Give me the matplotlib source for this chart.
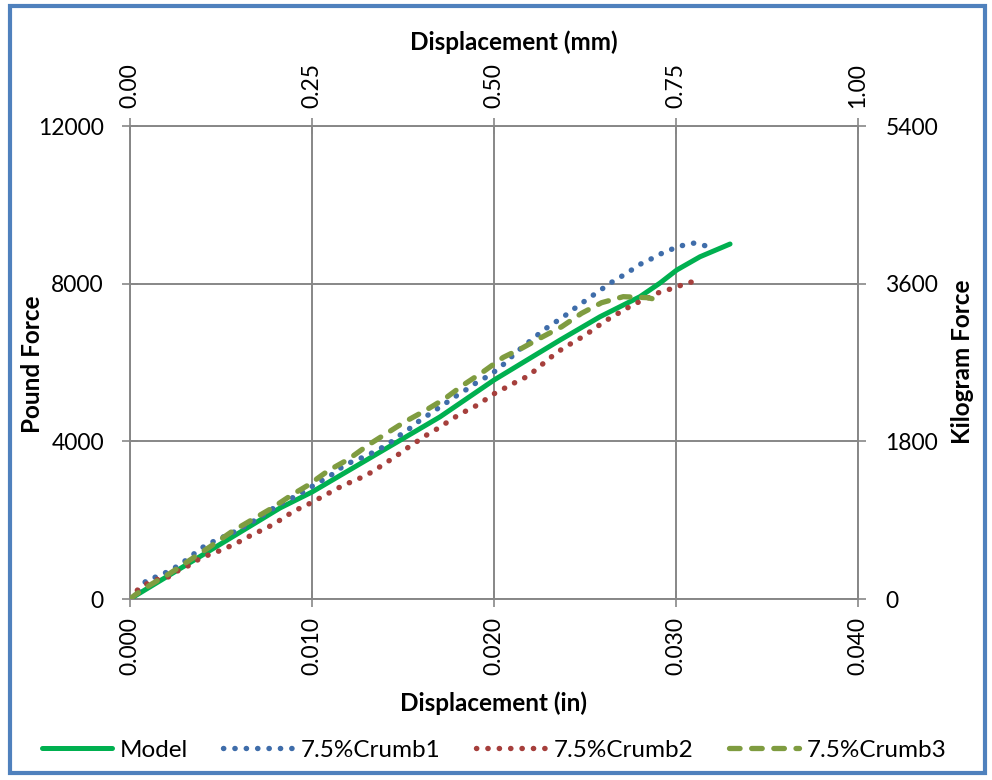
import matplotlib
matplotlib.use("Agg")
import matplotlib.pyplot as plt
from matplotlib.patches import Rectangle
from matplotlib.ticker import FormatStrFormatter

plt.rcParams['font.family'] = ['Lato', 'DejaVu Sans']

# Load-displacement data (displacement in inches, force in lbf)
model_x = [0, 0.00824, 0.0100, 0.01703, 0.0200, 0.02363, 0.02582, 0.02802,
           0.02912, 0.03004, 0.03132, 0.03297]
model_y = [0, 2308, 2714, 4620, 5555, 6570, 7160, 7670, 8016, 8346, 8683, 9006]

crumb1_x = [0, 0.0004, 0.00092, 0.00147, 0.00207, 0.00262, 0.00315, 0.00366,
            0.00418, 0.00476, 0.00595, 0.00705, 0.00815, 0.0093, 0.0104,
            0.01093, 0.0115, 0.01203, 0.01258, 0.01319, 0.01377, 0.01432,
            0.01484, 0.01538, 0.0159, 0.01645, 0.017, 0.01754, 0.018, 0.01859,
            0.0191, 0.01968, 0.0202, 0.02069, 0.02115, 0.02165, 0.02216,
            0.02267, 0.0232, 0.02375, 0.02426, 0.02481, 0.02533, 0.02586,
            0.02637, 0.02692, 0.02747, 0.02802, 0.0286, 0.02918, 0.0298,
            0.03037, 0.031, 0.03163]
crumb1_y = [0, 185, 482, 566, 693, 837, 1007, 1200, 1370, 1497, 1750, 2047,
            2385, 2655, 2970, 3100, 3300, 3450, 3550, 3680, 3820, 3975, 4160,
            4330, 4520, 4690, 4860, 5030, 5175, 5345, 5510, 5655, 5825, 6020,
            6230, 6425, 6610, 6805, 6975, 7135, 7315, 7500, 7670, 7840, 8010,
            8160, 8320, 8490, 8620, 8760, 8880, 8970, 9030, 8960]

crumb2_x = [0, 0.00046, 0.00097, 0.00156, 0.00216, 0.00275, 0.0033, 0.00385,
            0.00445, 0.00504, 0.00564, 0.00619, 0.00678, 0.00736, 0.00791,
            0.00848, 0.00903, 0.00962, 0.01016, 0.01075, 0.01132, 0.0119,
            0.01249, 0.01306, 0.0136, 0.01416, 0.01471, 0.0152, 0.01575,
            0.0163, 0.01685, 0.0174, 0.01795, 0.0185, 0.01909, 0.01963,
            0.02018, 0.02075, 0.0213, 0.02188, 0.02238, 0.02289, 0.0234,
            0.02393, 0.02448, 0.02503, 0.02555, 0.0261, 0.02665, 0.0272,
            0.02778, 0.02835, 0.02893, 0.02954, 0.03016, 0.03077, 0.0314]
crumb2_y = [0, 254, 397, 507, 566, 753, 862, 1032, 1142, 1243, 1370, 1497,
            1650, 1768, 1903, 2072, 2240, 2360, 2495, 2640, 2790, 2920, 3035,
            3160, 3315, 3485, 3655, 3820, 3990, 4160, 4310, 4475, 4640, 4780,
            4920, 5090, 5260, 5385, 5530, 5655, 5850, 6045, 6235, 6400, 6545,
            6700, 6870, 7050, 7200, 7350, 7500, 7610, 7755, 7840, 7940, 8035,
            8075]

crumb3_x = [0, 0.00027, 0.0011, 0.0022, 0.0033, 0.0044, 0.00559, 0.00668,
            0.00778, 0.00888, 0.0098, 0.01089, 0.012, 0.01309, 0.0141,
            0.01511, 0.01621, 0.01726, 0.01831, 0.01941, 0.02051, 0.02152,
            0.02262, 0.02372, 0.02481, 0.02591, 0.0271, 0.02842, 0.02885]
crumb3_y = [0, 100, 355, 652, 990, 1327, 1708, 2004, 2300, 2638, 2892, 3255,
            3544, 3907, 4203, 4498, 4777, 5070, 5429, 5766, 6131, 6360, 6640,
            6908, 7248, 7517, 7670, 7645, 7603]

series_names = ["Model", "7.5%Crumb1", "7.5%Crumb2", "7.5%Crumb3"]

x_ticks_in = [0.000, 0.010, 0.020, 0.030, 0.040]
x_ticks_mm = [0.00, 0.25, 0.50, 0.75, 1.00]
y_ticks_lbf = [0, 4000, 8000, 12000]
y_ticks_kgf = [0, 1800, 3600, 5400]

FS_TICK = 16.5
FS_TITLE = 17.5
FS_LEG = 17.5
grid_col = '#878787'
W, H = 992, 780
fig = plt.figure(figsize=(W / 100, H / 100), dpi=100)
ax = fig.add_axes([130 / W, 1 - 599 / H, 728 / W, 473 / H])

ax.plot(model_x, model_y, color='#00B050', lw=3.6, solid_capstyle='round',
        label=series_names[0], zorder=3)
ax.plot(crumb1_x, crumb1_y, color='#3F6DAA', lw=3.9, linestyle=(0, (0.05, 2.05)),
        dash_capstyle='round', label=series_names[1], zorder=4)
ax.plot(crumb2_x, crumb2_y, color='#A63F3C', lw=3.9, linestyle=(0, (0.05, 2.05)),
        dash_capstyle='round', label=series_names[2], zorder=5)
ax.plot(crumb3_x, crumb3_y, color='#7F9C40', lw=3.8, linestyle=(0, (2.0, 2.2)),
        dash_capstyle='round', label=series_names[3], zorder=6)

ax.set_xlim(0, 0.040)
ax.set_ylim(0, 12000)
ax.set_xticks(x_ticks_in)
ax.set_yticks(y_ticks_lbf)
ax.xaxis.set_major_formatter(FormatStrFormatter('%.3f'))
ax.grid(True, color=grid_col, lw=1.4, zorder=0)
ax.set_axisbelow(True)
for s in ax.spines.values():
    s.set_visible(False)
for side in ('left', 'bottom'):
    ax.spines[side].set_visible(True)
    ax.spines[side].set_color(grid_col)
    ax.spines[side].set_linewidth(1.4)
ax.tick_params(axis='both', direction='inout', length=11.5, width=1.2,
               color=grid_col, labelsize=FS_TICK)
ax.tick_params(axis='y', pad=13)
ax.tick_params(axis='x', labelrotation=90, pad=7.5)

# Secondary scales: millimetres on top, kilogram-force on the right
axt = ax.twiny()
axt.set_xlim(0, 1.0)
axt.set_xticks(x_ticks_mm)
axt.xaxis.set_major_formatter(FormatStrFormatter('%.2f'))
axt.tick_params(axis='x', direction='inout', length=11.5, width=1.2,
                color=grid_col, labelsize=FS_TICK, labelrotation=90, pad=7)
for s in axt.spines.values():
    s.set_visible(False)
axt.spines['top'].set_visible(True)
axt.spines['top'].set_color(grid_col)
axt.spines['top'].set_linewidth(1.4)

axr = ax.twinx()
axr.set_ylim(0, 5400)
axr.set_yticks(y_ticks_kgf)
axr.tick_params(axis='y', direction='inout', length=11.5, width=1.2,
                color=grid_col, labelsize=FS_TICK, pad=14)
for s in axr.spines.values():
    s.set_visible(False)
axr.spines['right'].set_visible(True)
axr.spines['right'].set_color(grid_col)
axr.spines['right'].set_linewidth(1.4)

# Axis titles
fig.text(494 / W, 1 - 703 / H, 'Displacement (in)', fontsize=FS_TITLE,
         fontweight='bold', ha='center', va='center')
fig.text(514 / W, 1 - 42 / H, 'Displacement (mm)', fontsize=FS_TITLE,
         fontweight='bold', ha='center', va='center')
fig.text(32 / W, 1 - 364 / H, 'Pound Force', fontsize=FS_TITLE,
         fontweight='bold', rotation=90, ha='center', va='center')
fig.text(963 / W, 1 - 362 / H, 'Kilogram Force', fontsize=FS_TITLE,
         fontweight='bold', rotation=90, ha='center', va='center')

handles, labels = ax.get_legend_handles_labels()
fig.legend(handles, labels, loc='center', bbox_to_anchor=(494 / W, 1 - 750 / H),
           ncol=4, frameon=False, fontsize=FS_LEG, handlelength=2.9,
           columnspacing=1.45, handletextpad=0.3)

# Blue outline round the whole chart
fig.patches.append(Rectangle((10 / W, 7 / H), 975 / W, 767 / H,
                             transform=fig.transFigure, fill=False,
                             edgecolor='#4F81BD', lw=3))

fig.savefig('out.png', dpi=100)
